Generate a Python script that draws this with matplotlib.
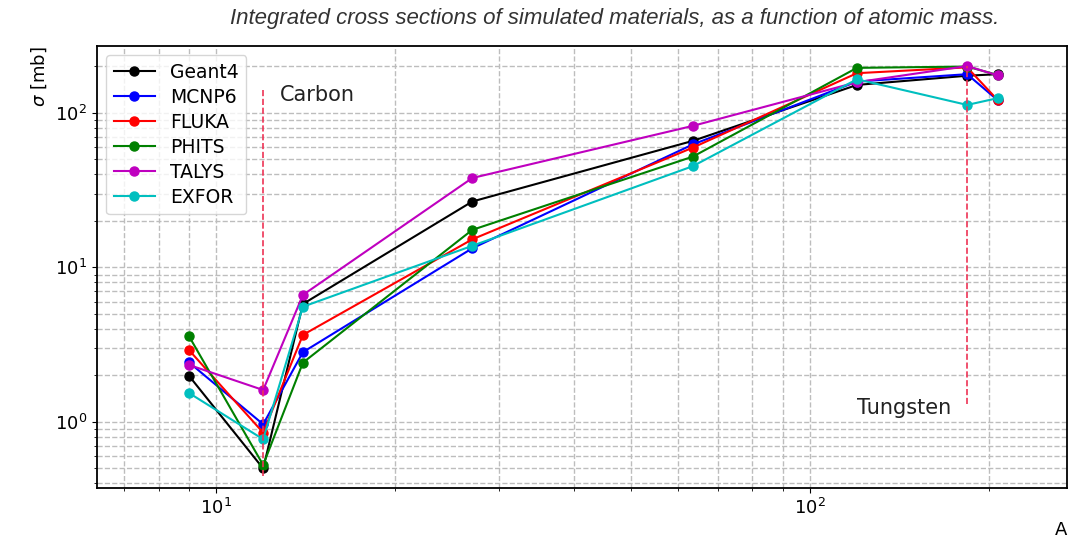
import matplotlib
matplotlib.use("Agg")
import matplotlib.pyplot as plt

# atomic mass of the simulated targets (Be, C, N, Al, Cu, Sn, W, Pb)
A = [9, 12, 14, 27, 63.5, 120, 184, 207]

# integrated cross sections [mb]
geant4 = [1.99, 0.50, 5.80, 26.7, 65.9, 151.7, 174, 178]
mcnp6  = [2.43, 0.966, 2.83, 13.3, 62.5, 159.5, 178, 121]
fluka  = [2.92, 0.853, 3.66, 15.2, 59.6, 180.7, 197, 121.4]
phits  = [3.59, 0.527, 2.42, 17.5, 52.1, 195.6, 199.5, 176]
talys  = [2.34, 1.61, 6.64, 37.9, 82.4, 158, 201, 175]
exfor  = [1.54, 0.773, 5.57, 13.8, 45.2, 165, 112.6, 124.5]

series = [("Geant4", geant4, "k"), ("MCNP6", mcnp6, "b"), ("FLUKA", fluka, "r"),
          ("PHITS", phits, "g"), ("TALYS", talys, "m"), ("EXFOR", exfor, "c")]

fig = plt.figure(figsize=(10.73, 5.41), dpi=100)
ax = fig.add_axes([0.0904, 0.098, 0.904, 0.817])

for name, vals, col in series:
    ax.plot(A, vals, color=col, marker="o", markersize=6.5, linewidth=1.5, label=name)

# material markers
ax.vlines(12, 0.45, 145, colors="#ee3355", linestyles="--", linewidth=1.2)
ax.vlines(184, 1.3, 200, colors="#ee3355", linestyles="--", linewidth=1.2)
ax.text(12.8, 131, "Carbon", fontsize=15, va="center", color="#222222")
ax.text(120, 1.23, "Tungsten", fontsize=15, va="center", color="#222222")

ax.set_xscale("log")
ax.set_yscale("log")
ax.set_xlim(6.3, 271)
ax.set_ylim(0.374, 271)
ax.grid(True, which="both", linestyle="--", color="#bdbdbd", linewidth=1.0)
ax.tick_params(labelsize=13)
for s in ax.spines.values():
    s.set_linewidth(1.3)

ax.set_xlabel("A", fontsize=13, loc="right", labelpad=2)
ax.set_ylabel(r"$\sigma$ [mb]", fontsize=13, loc="top")
ax.legend(loc="upper left", fontsize=13.5, borderaxespad=0.5, handlelength=2.2,
          labelspacing=0.32)

fig.text(0.573, 0.965, "Integrated cross sections of simulated materials, as a function of atomic mass.",
         ha="center", va="center", fontsize=16, style="italic", family="Liberation Sans", color="#333333")

fig.savefig("out.png", dpi=100)
